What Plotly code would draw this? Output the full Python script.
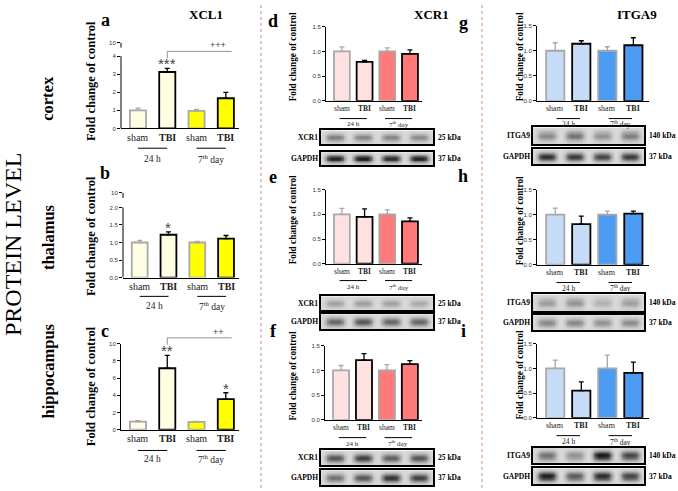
import numpy as np
import plotly.graph_objects as go

W, H = 678, 491

# ---- data ----
groups = ["sham", "TBI", "sham", "TBI"]
timepoints = ["24 h", "7<sup>th</sup> day"]

xcl1_cortex = [1.00, 3.12, 0.97, 1.67]
xcl1_cortex_err = [0.12, 0.20, 0.08, 0.32]
xcl1_thalamus = [1.00, 1.22, 1.00, 1.11]
xcl1_thalamus_err = [0.06, 0.08, 0.03, 0.09]
xcl1_hippo = [0.95, 7.15, 0.92, 3.55]
xcl1_hippo_err = [0.10, 1.50, 0.05, 0.75]

xcr1_cortex = [1.00, 0.79, 1.00, 0.95]
xcr1_cortex_err = [0.09, 0.03, 0.07, 0.08]
xcr1_thalamus = [1.00, 0.95, 1.00, 0.86]
xcr1_thalamus_err = [0.12, 0.16, 0.09, 0.07]
xcr1_hippo = [1.00, 1.21, 1.00, 1.13]
xcr1_hippo_err = [0.10, 0.13, 0.12, 0.07]

itga9_cortex = [1.00, 1.14, 1.00, 1.11]
itga9_cortex_err = [0.16, 0.06, 0.08, 0.15]
itga9_thalamus = [1.00, 0.81, 1.00, 1.02]
itga9_thalamus_err = [0.13, 0.16, 0.07, 0.05]
itga9_hippo = [1.00, 0.55, 1.00, 0.91]
itga9_hippo_err = [0.17, 0.18, 0.27, 0.22]

# western blot band darkness per lane (0 = none, 1 = black)
d_target_band = [0.45, 0.42, 0.42, 0.40]
d_gapdh_band = [0.85, 0.88, 0.80, 0.85]
e_target_band = [0.28, 0.30, 0.28, 0.24]
e_gapdh_band = [0.55, 0.62, 0.55, 0.55]
f_target_band = [0.62, 0.72, 0.58, 0.62]
f_gapdh_band = [0.50, 0.62, 0.78, 0.72]
g_target_band = [0.40, 0.50, 0.35, 0.45]
g_gapdh_band = [0.80, 0.75, 0.70, 0.75]
h_target_band = [0.30, 0.35, 0.20, 0.30]
h_gapdh_band = [0.40, 0.40, 0.35, 0.38]
i_target_band = [0.50, 0.35, 0.92, 0.70]
i_gapdh_band = [0.88, 0.60, 0.82, 0.70]

xcl1_colors = ["#FFFDE2", "#FFFDE2", "#FFFF00", "#FFFF00"]
xcr1_colors = ["#FFE1E1", "#FFE1E1", "#FF7B7B", "#FF7B7B"]
itga9_colors = ["#C6DCF6", "#C6DCF6", "#4B9CF2", "#4B9CF2"]
sham_edge = "#A8A8A8"
tbi_edge = "#000000"
serif = "Liberation Serif"
sans = "Liberation Sans"


def fx(p):
    return p / W


def fy(p):
    return 1 - p / H


def note(text, x, y, size, family=serif, color="black", weight="normal", **kw):
    d = dict(text=text, xref="paper", yref="paper", x=x, y=y, showarrow=False,
             xanchor="center", yanchor="middle",
             font=dict(family=family, size=size, color=color, weight=weight))
    d.update(kw)
    return d


col1 = dict(xr=(-0.58, 3.45), bw=0.55, cat=10, half=0.5, off=9)
col2 = dict(xr=(-0.7, 3.53), bw=0.7, cat=7.5, half=0.6, off=7.5)
col3 = dict(xr=(-0.7, 3.6), bw=0.7, cat=8, half=0.45, off=7.5)

panels = [
    dict(k="a", v=xcl1_cortex, e=xcl1_cortex_err, c=xcl1_colors, box=(121, 239, 40, 127), yr=4.75,
         tv=[0, 1, 2, 3, 4, 4.75], tt=["0", "1", "2", "3", "4", "10"], brk=(4, 4.47),
         ly=147, ty=158, lab=(105, 17), yt=(91, 79, 12.5), col=col1),
    dict(k="b", v=xcl1_thalamus, e=xcl1_thalamus_err, c=xcl1_colors, box=(123, 239, 192, 278), yr=2.42,
         tv=[0, 0.5, 1, 1.5, 2, 2.42], tt=["0.0", "0.5", "1.0", "1.5", "2.0", "10"], brk=(2, 2.27),
         ly=297, ty=307, lab=(105, 172), yt=(91, 236, 12.5), col=col1),
    dict(k="c", v=xcl1_hippo, e=xcl1_hippo_err, c=xcl1_colors, box=(121, 239, 345, 432), yr=10,
         tv=[0, 2, 4, 6, 8, 10], tt=None, brk=None,
         ly=453, ty=462, lab=(105, 332), yt=(91, 388, 12.5), col=col1),
    dict(k="d", v=xcr1_cortex, e=xcr1_cortex_err, c=xcr1_colors, box=(326, 422, 24, 99), yr=1.5,
         tv=[0, 0.5, 1, 1.5], tt=None, brk=None, ly=117, ty=123, lab=(273, 18), yt=(293, 55, 9.3), col=col2,
         blot=("XCR1", "25 kDa", (321, 433), (129, 143), (151, 164), d_target_band, d_gapdh_band)),
    dict(k="e", v=xcr1_thalamus, e=xcr1_thalamus_err, c=xcr1_colors, box=(326, 422, 189, 264), yr=1.5,
         tv=[0, 0.5, 1, 1.5], tt=None, brk=None, ly=281, ty=288, lab=(273, 176), yt=(293, 220, 9.3), col=col2,
         blot=("XCR1", "25 kDa", (321, 433), (297, 311), (315, 330), e_target_band, e_gapdh_band)),
    dict(k="f", v=xcr1_hippo, e=xcr1_hippo_err, c=xcr1_colors, box=(325, 422, 347, 422), yr=1.5,
         tv=[0, 0.5, 1, 1.5], tt=None, brk=None, ly=440, ty=446, lab=(273, 332), yt=(293, 378, 9.3), col=col2,
         blot=("XCR1", "25 kDa", (321, 433), (453, 468), (473, 488), f_target_band, f_gapdh_band)),
    dict(k="g", v=itga9_cortex, e=itga9_cortex_err, c=itga9_colors, box=(537, 649, 23, 99), yr=1.5,
         tv=[0, 0.5, 1, 1.5], tt=None, brk=None, ly=117, ty=123, lab=(463, 20), yt=(520, 55, 9.3), col=col3,
         blot=("ITGA9", "140 kDa", (533, 644), (126, 143), (148, 163), g_target_band, g_gapdh_band)),
    dict(k="h", v=itga9_thalamus, e=itga9_thalamus_err, c=itga9_colors, box=(537, 649, 189, 265), yr=1.5,
         tv=[0, 0.5, 1, 1.5], tt=None, brk=None, ly=283, ty=289, lab=(463, 175), yt=(520, 221, 9.3), col=col3,
         blot=("ITGA9", "140 kDa", (533, 644), (295, 312), (316, 331), h_target_band, h_gapdh_band)),
    dict(k="i", v=itga9_hippo, e=itga9_hippo_err, c=itga9_colors, box=(537, 649, 345, 420), yr=1.5,
         tv=[0, 0.5, 1, 1.5], tt=None, brk=None, ly=438, ty=444, lab=(463, 332), yt=(520, 377, 9.3), col=col3,
         blot=("ITGA9", "140 kDa", (533, 644), (450, 466), (471, 487), i_target_band, i_gapdh_band)),
]

fig = go.Figure()
layout = dict(width=W, height=H, margin=dict(l=0, r=0, t=0, b=0), showlegend=False,
              plot_bgcolor="white", paper_bgcolor="white", barmode="overlay")
shapes, annotations = [], []
pos = np.arange(4)

blot_x = np.linspace(0, 1, 140)
blot_y = np.linspace(0, 1, 16)
BX, BY = np.meshgrid(blot_x, blot_y)


def blot_z(bands):
    z = np.full(BX.shape, 0.12)
    for j, b in enumerate(bands):
        cx = (j + 0.5) / 4
        z += b * np.exp(-((BX - cx) / 0.085) ** 4) * np.exp(-((BY - 0.5) / 0.28) ** 2)
    return z


ax_n = 0
for p in panels:
    ax_n += 1
    xa = "x" if ax_n == 1 else f"x{ax_n}"
    ya = "y" if ax_n == 1 else f"y{ax_n}"
    cfg = p["col"]
    x0, x1, y0, y1 = p["box"]
    xr0, xr1 = cfg["xr"]

    def to_px(v):
        return x0 + (v - xr0) / (xr1 - xr0) * (x1 - x0)

    for idx, edge in (([0, 2], sham_edge), ([1, 3], tbi_edge)):
        fig.add_trace(go.Bar(
            x=pos[idx], y=[p["v"][i] for i in idx], width=cfg["bw"],
            marker=dict(color=[p["c"][i] for i in idx], line=dict(color=edge, width=1.8)),
            error_y=dict(type="data", array=[p["e"][i] for i in idx], arrayminus=[0, 0],
                         symmetric=False, color=edge, thickness=1.3, width=2.5),
            xaxis=xa, yaxis=ya))
    layout["xaxis" if ax_n == 1 else f"xaxis{ax_n}"] = dict(
        domain=[fx(x0), fx(x1)], anchor=ya, range=list(cfg["xr"]), showticklabels=False,
        showline=True, linecolor="black", linewidth=1.3, ticks="", showgrid=False, zeroline=False)
    # group labels under each bar (TBI in bold)
    for g, xv in zip(groups, pos):
        annotations.append(note(g, fx(to_px(xv)), fy(y1 + cfg["off"]), cfg["cat"], color="#222",
                                weight="bold" if g == "TBI" else "normal"))
    brk = p["brk"]
    layout["yaxis" if ax_n == 1 else f"yaxis{ax_n}"] = dict(
        domain=[fy(y1), fy(y0)], anchor=xa, range=[0, p["yr"]],
        tickvals=p["tv"], ticktext=p["tt"] if p["tt"] else [("%.1f" % t if p["yr"] < 5 else "%d" % t) for t in p["tv"]],
        tickfont=dict(family=sans, size=6, color="#333"),
        showline=brk is None, linecolor="black", linewidth=1, ticks="outside", ticklen=3,
        tickcolor="black", tickwidth=1, showgrid=False, zeroline=False)
    if brk:
        shapes.append(dict(type="line", xref=f"{xa} domain", yref=ya, x0=0, x1=0, y0=0, y1=brk[0],
                           line=dict(color="black", width=1)))
        shapes.append(dict(type="line", xref=f"{xa} domain", yref=ya, x0=0, x1=0, y0=brk[1], y1=p["yr"],
                           line=dict(color="black", width=1)))

    # time point underlines and labels
    for t, c in zip(timepoints, (0.5, 2.5)):
        shapes.append(dict(type="line", xref=xa, yref="paper", x0=c - cfg["half"], x1=c + cfg["half"],
                           y0=fy(p["ly"]), y1=fy(p["ly"]), line=dict(color="black", width=1)))
        annotations.append(note(t, fx(to_px(c)), fy(p["ty"]), cfg["cat"] - 0.5, color="#222"))
    annotations.append(note(f"<b>{p['k']}</b>", fx(p["lab"][0]), fy(p["lab"][1]), 18))
    annotations.append(note("<b>Fold change of control</b>", fx(p["yt"][0]), fy(p["yt"][1]), p["yt"][2],
                            textangle=-90))
    p["xa"], p["ya"] = xa, ya

# blots
for p in panels:
    if "blot" not in p:
        continue
    name, kda, (bx0, bx1), tgt, gap, tb, gb = p["blot"]
    for lbl, (by0, by1), bands, kd in ((name, tgt, tb, kda), ("GAPDH", gap, gb, "37 kDa")):
        ax_n += 1
        xa, ya = f"x{ax_n}", f"y{ax_n}"
        fig.add_trace(go.Heatmap(x=blot_x, y=blot_y, z=blot_z(bands), zmin=0, zmax=1, zsmooth="best",
                                 colorscale=[[0, "#F2F2F2"], [0.5, "#8C8C8C"], [1, "#1A1A1A"]],
                                 showscale=False, hoverinfo="skip", xaxis=xa, yaxis=ya))
        ax = dict(range=[0, 1], showline=True, mirror=True, linecolor="black", linewidth=1.5,
                  showticklabels=False, ticks="", showgrid=False, zeroline=False)
        layout[f"xaxis{ax_n}"] = dict(ax, domain=[fx(bx0), fx(bx1)], anchor=ya)
        layout[f"yaxis{ax_n}"] = dict(ax, domain=[fy(by1), fy(by0)], anchor=xa)
        ym = fy((by0 + by1) / 2)
        annotations.append(note(f"<b>{lbl}</b>", fx(bx0 - 1.5), ym, 7.5, xanchor="right"))
        annotations.append(note(f"<b>{kd}</b>", fx(bx1 + 2.5), ym, 7.5, xanchor="left"))

# significance marks
stars = [("a", 1, "***"), ("b", 1, "*"), ("c", 1, "**"), ("c", 3, "*")]
pmap = {p["k"]: p for p in panels}
for k, i, s in stars:
    p = pmap[k]
    annotations.append(dict(text=s, xref=p["xa"], yref=p["ya"], x=pos[i], y=p["v"][i] + p["e"][i],
                            xanchor="center", yanchor="bottom", yshift=-6, showarrow=False,
                            font=dict(family=sans, size=15, color="#444")))
for k, top, drop, txt in (("a", 49, 56, "+++"), ("c", 339, 346, "++")):
    p = pmap[k]
    shapes.append(dict(type="line", xref=p["xa"], yref="paper", x0=1, x1=3.2, y0=fy(top), y1=fy(top),
                       line=dict(color="#777", width=0.8)))
    shapes.append(dict(type="line", xref=p["xa"], yref="paper", x0=1, x1=1, y0=fy(top), y1=fy(drop),
                       line=dict(color="#777", width=0.8)))
    annotations.append(note(txt, fx(218), fy(top - 6), 9, family=sans, color="#444"))

# column titles, row labels
for t, x in (("XCL1", 206), ("XCR1", 431), ("ITGA9", 637)):
    annotations.append(note(f"<b>{t}</b>", fx(x), fy(12), 13))
for t, y in (("cortex", 97), ("thalamus", 237), ("hippocampus", 373)):
    annotations.append(note(f"<b>{t}</b>", fx(48), fy(y), 16.5, textangle=-90))
annotations.append(note("PROTEIN LEVEL", fx(13), fy(245), 24, textangle=-90))

for x in (261, 482):
    shapes.append(dict(type="line", xref="paper", yref="paper", x0=fx(x), x1=fx(x), y0=0, y1=1,
                       line=dict(color="#C58BB5", width=1, dash="dot")))

layout["shapes"] = shapes
layout["annotations"] = annotations
fig.update_layout(**layout)
fig.write_html("out.html", config={"displayModeBar": False},
               post_script="document.body.style.margin='0';")
